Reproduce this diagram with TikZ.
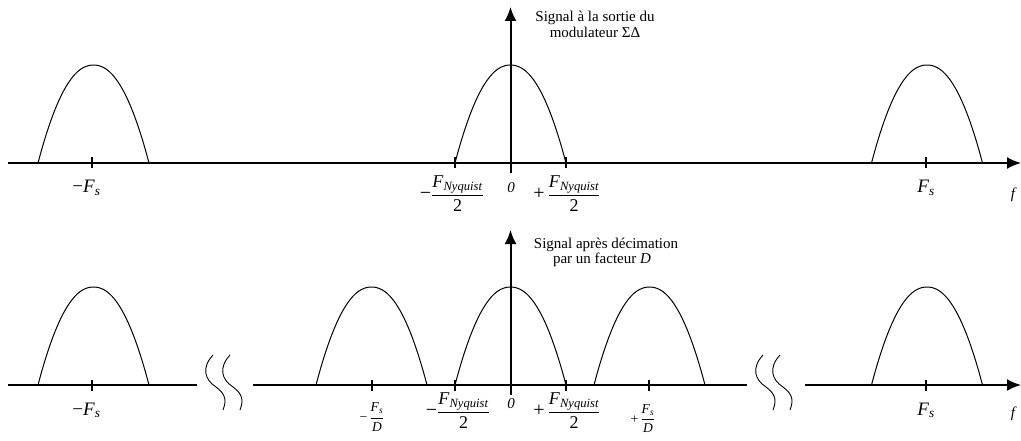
\documentclass[tikz,border=0pt]{standalone}
\usepackage{amsmath}
\usepackage{fontspec}
\setmainfont{Liberation Serif}
\usetikzlibrary{arrows.meta}
\newcommand{\FsL}{\textit{F}\textsubscript{\textit{s}}}
\newcommand{\FnyL}{\textit{F}\textsubscript{\textit{Nyquist}}}
\newcommand{\frc}[2]{$\dfrac{\text{#1}}{\text{#2}}$}
\newcommand{\humpat}[2]{\draw[humpline] plot[domain=-55.5:55.5,samples=40,smooth] ({#1+\x},{#2-98*(1-pow(abs(\x)/55.5,2.15))});}
\newcommand{\squig}[1]{\draw[squigline] (#1,355) .. controls ({#1-12},368) and ({#1-8},380) .. ({#1+3},387) .. controls ({#1+14},395) and ({#1+13},402) .. ({#1+10},410);}
\tikzset{
  axisline/.style={line width=2pt},
  humpline/.style={line width=1pt},
  squigline/.style={line width=0.9pt},
  tickline/.style={line width=2pt},
  arrowhd/.style={-{Latex[length=14pt,width=12pt]}},
  big/.style={font=\fontsize{19}{20}\selectfont, inner sep=0pt, anchor=base},
  frac/.style={font=\fontsize{18}{19}\selectfont, inner sep=0pt, anchor=base},
  small/.style={font=\fontsize{13.5}{14}\selectfont, inner sep=0pt, anchor=base},
  zero/.style={font=\fontsize{15}{16}\selectfont\itshape, inner sep=0pt, anchor=base},
  title/.style={font=\fontsize{15}{16}\selectfont, inner sep=0pt, anchor=base}
}
\begin{document}
\begin{tikzpicture}[x=1pt,y=-1pt]
\useasboundingbox (0,0) rectangle (1021,441);

% ---------- top panel ----------
\coordinate (hl1) at (8,163);
\coordinate (hr1) at (1021,163);
\coordinate (vb1) at (510.5,173);
\coordinate (vt1) at (510.5,7);
\draw[axisline,arrowhd] (hl1) -- (hr1);
\draw[axisline,arrowhd] (vb1) -- (vt1);
\foreach \t in {92,455,566,926}{\draw[tickline] (\t,157.5) -- (\t,168.5);}
\humpat{93.5}{163}
\humpat{510.5}{163}
\humpat{927}{163}

\node[title] (t1a) at (595,22) {Signal à la sortie du};
\node[title] (t1b) at (595,37.5) {modulateur ΣΔ};

\node[big] (mfs1) at (86.5,193) {−\FsL};
\node[big] (fs1) at (926,193) {\FsL};
\node[zero] (z1) at (511,193) {0};
\node[zero] (f1) at (1013,199) {f};
\node[frac] (mny1) at (452,199.5) {{\fontsize{20}{20}\selectfont −}\frc{\FnyL}{2}};
\node[frac] (pny1) at (567,199.5) {{\fontsize{20}{20}\selectfont +}\,\frc{\FnyL}{2}};

% ---------- bottom panel ----------
\coordinate (hl2) at (8,385);
\coordinate (he2) at (197,385);
\coordinate (hs3) at (253,385);
\coordinate (he3) at (747,385);
\coordinate (hs4) at (805,385);
\coordinate (hr2) at (1021,385);
\coordinate (vb2) at (510.5,395);
\coordinate (vt2) at (510.5,230);
\draw[axisline] (hl2) -- (he2);
\draw[axisline] (hs3) -- (he3);
\draw[axisline,arrowhd] (hs4) -- (hr2);
\draw[axisline,arrowhd] (vb2) -- (vt2);
\foreach \t in {92,372,455,566,649,926}{\draw[tickline] (\t,379.5) -- (\t,390.5);}
\humpat{93.5}{385}
\humpat{371.5}{385}
\humpat{510.5}{385}
\humpat{649.5}{385}
\humpat{927}{385}
\squig{213}
\squig{230}
\squig{763}
\squig{780}

\node[title] (t2a) at (606,248) {Signal après décimation};
\node[title] (t2b) at (602,263.5) {par un facteur \textit{D}};

\node[big] (mfs2) at (86.5,415) {−\FsL};
\node[big] (fs2) at (926,415) {\FsL};
\node[zero] (z2) at (511,408) {0};
\node[zero] (f2) at (1013,417) {f};
\node[frac] (mny2) at (458,416.5) {{\fontsize{20}{20}\selectfont −}\frc{\FnyL}{2}};
\node[frac] (pny2) at (567,416.5) {{\fontsize{20}{20}\selectfont +}\,\frc{\FnyL}{2}};
\node[small] (mfd2) at (372,421.5) {−\,\frc{\FsL}{\textit{D}}};
\node[small] (pfd2) at (643,423) {+\,\frc{\FsL}{\textit{D}}};
\end{tikzpicture}
\end{document}
